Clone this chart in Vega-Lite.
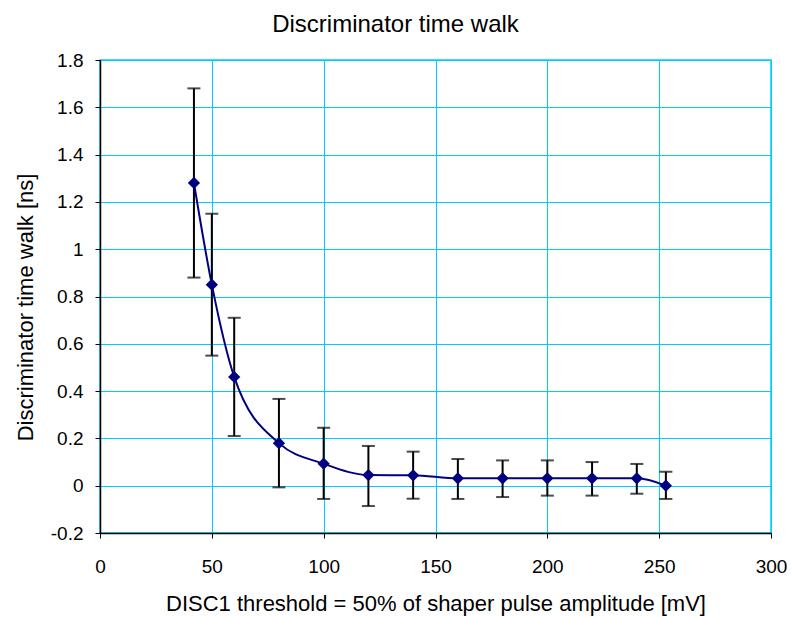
{
  "$schema": "https://vega.github.io/schema/vega-lite/v6.json",
  "width": 671,
  "height": 473,
  "autosize": {"type": "none"},
  "padding": {"left": 100, "top": 60, "right": 20, "bottom": 84},
  "background": "white",
  "title": {
    "text": "Discriminator time walk",
    "font": "Liberation Sans",
    "fontSize": 24,
    "fontWeight": "normal",
    "color": "black",
    "anchor": "middle",
    "dx": -40,
    "offset": 14
  },
  "config": {
    "view": {"stroke": "#00CCFF", "strokeWidth": 1.5},
    "axis": {
      "labelFont": "Liberation Sans",
      "titleFont": "Liberation Sans",
      "labelColor": "black",
      "titleColor": "black",
      "titleFontWeight": "normal",
      "gridColor": "#00CCFF",
      "gridOpacity": 1,
      "gridWidth": 1,
      "domainColor": "black",
      "domainWidth": 1.5,
      "tickColor": "black",
      "tickSize": 5,
      "tickWidth": 1
    }
  },
  "data": {
    "values": [
      {"x": 42, "y": 1.28, "lo": 0.88, "hi": 1.68},
      {"x": 50, "y": 0.85, "lo": 0.55, "hi": 1.15},
      {"x": 60, "y": 0.46, "lo": 0.21, "hi": 0.71},
      {"x": 80, "y": 0.18, "lo": -0.007, "hi": 0.367},
      {"x": 100, "y": 0.093, "lo": -0.056, "hi": 0.245},
      {"x": 120, "y": 0.045, "lo": -0.086, "hi": 0.168},
      {"x": 140, "y": 0.044, "lo": -0.055, "hi": 0.144},
      {"x": 160, "y": 0.031, "lo": -0.056, "hi": 0.113},
      {"x": 180, "y": 0.031, "lo": -0.048, "hi": 0.107},
      {"x": 200, "y": 0.031, "lo": -0.042, "hi": 0.107},
      {"x": 220, "y": 0.031, "lo": -0.042, "hi": 0.1},
      {"x": 240, "y": 0.031, "lo": -0.034, "hi": 0.092},
      {"x": 253, "y": 0.0, "lo": -0.056, "hi": 0.059}
    ]
  },
  "encoding": {
    "x": {
      "field": "x",
      "type": "quantitative",
      "scale": {"domain": [0, 300], "nice": false, "zero": false},
      "axis": {
        "values": [0, 50, 100, 150, 200, 250, 300],
        "title": "DISC1 threshold = 50% of shaper pulse amplitude [mV]",
        "labelFontSize": 19,
        "titleFontSize": 22,
        "labelPadding": 19,
        "titlePadding": 17,
        "labelFlush": false
      }
    }
  },
  "layer": [
    {
      "mark": {
        "type": "errorbar",
        "color": "black",
        "thickness": 2,
        "ticks": {"size": 13, "thickness": 2, "color": "black"}
      },
      "encoding": {
        "y": {
          "field": "lo",
          "type": "quantitative",
          "scale": {"domain": [-0.2, 1.8], "nice": false, "zero": false},
          "axis": {
            "values": [-0.2, 0, 0.2, 0.4, 0.6, 0.8, 1, 1.2, 1.4, 1.6, 1.8],
            "labelExpr": "replace(format(datum.value, '.1~f'), '\u2212', '-')",
            "title": "Discriminator time walk [ns]",
            "labelFontSize": 19,
            "titleFontSize": 22,
            "labelPadding": 12,
            "titlePadding": 13,
            "titleY": 247,
            "labelFlush": false
          }
        },
        "y2": {"field": "hi"}
      }
    },
    {
      "mark": {"type": "line", "color": "#000080", "strokeWidth": 2, "interpolate": "monotone"},
      "encoding": {
        "y": {"field": "y", "type": "quantitative"}
      }
    },
    {
      "mark": {"type": "point", "shape": "diamond", "filled": true, "color": "#000080", "opacity": 1, "size": 150},
      "encoding": {
        "y": {"field": "y", "type": "quantitative"}
      }
    }
  ]
}
